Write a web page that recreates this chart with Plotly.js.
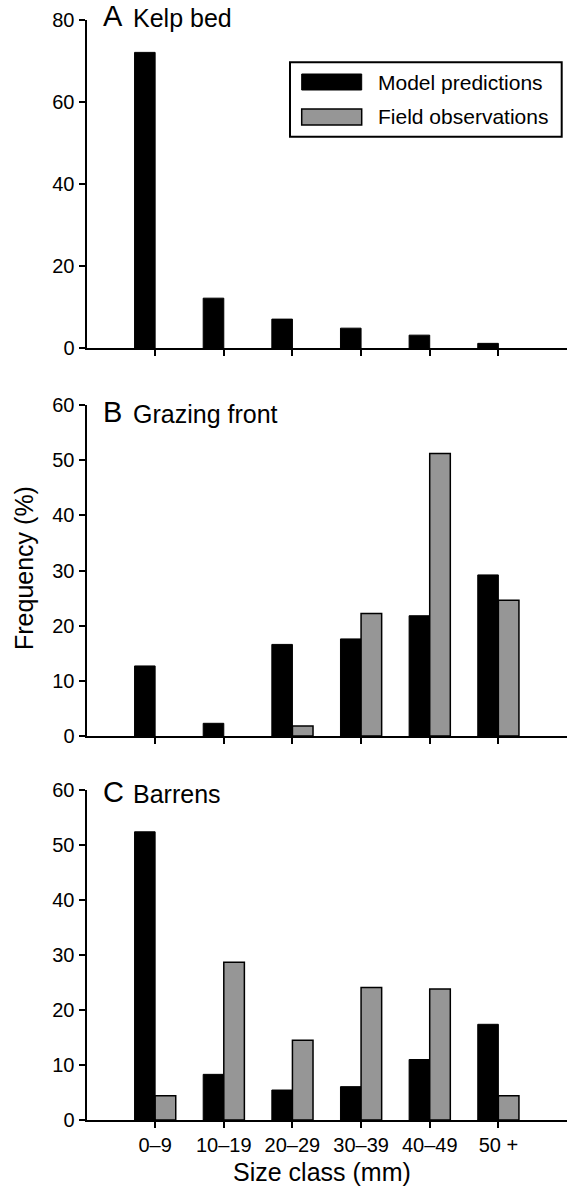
<!DOCTYPE html>
<html><head><meta charset="utf-8">
<script src="https://cdn.plot.ly/plotly-3.0.1.min.js"></script>
<style>html,body{margin:0;padding:0;background:#fff}#chart{width:567px;height:1189px}</style>
</head><body><div id="chart"></div>
<script>
const sizeClasses = ['0–9', '10–19', '20–29', '30–39', '40–49', '50 +'];
const kelpModel = [72, 12.2, 7.1, 4.9, 3.2, 1.2];
const kelpField = [null, null, null, null, null, null];
const frontModel = [12.7, 2.3, 16.6, 17.6, 21.8, 29.2];
const frontField = [null, null, 1.8, 22.2, 51.2, 24.6];
const barrensModel = [52.4, 8.3, 5.45, 6.06, 11.0, 17.4];
const barrensField = [4.4, 28.7, 14.5, 24.1, 23.8, 4.4];
const seriesNames = ['Model predictions', 'Field observations'];
const panelLetters = ['A', 'B', 'C'];
const panelNames = ['Kelp bed', 'Grazing front', 'Barrens'];

const W = 567, H = 1189;
const px = x => x / W;
const py = y => 1 - y / H;
const FONT = 'Liberation Sans, Arial, Helvetica, sans-serif';
const BLACK = '#000000', GREY = '#969696';

const panels = [
  {model: kelpModel, field: kelpField, ax: '', top: 19.5, bottom: 348.3, max: 80, dtick: 20},
  {model: frontModel, field: frontField, ax: '2', top: 405, bottom: 736, max: 60, dtick: 10},
  {model: barrensModel, field: barrensField, ax: '3', top: 790, bottom: 1120, max: 60, dtick: 10}
];

const data = [];
const layout = {
  width: W, height: H,
  margin: {l: 0, r: 0, t: 0, b: 0, pad: 0},
  paper_bgcolor: '#fff', plot_bgcolor: 'rgba(0,0,0,0)',
  showlegend: false,
  barmode: 'group', bargap: 0.4, bargroupgap: 0,
  font: {family: FONT, size: 20, color: '#000'},
  annotations: [], shapes: []
};

panels.forEach((p, i) => {
  data.push({
    type: 'bar', name: seriesNames[0], x: sizeClasses, y: p.model,
    xaxis: 'x' + p.ax, yaxis: 'y' + p.ax,
    marker: {color: BLACK, line: {color: BLACK, width: 1}}
  });
  data.push({
    type: 'bar', name: seriesNames[1], x: sizeClasses, y: p.field,
    xaxis: 'x' + p.ax, yaxis: 'y' + p.ax,
    marker: {color: GREY, line: {color: BLACK, width: 1.5}}
  });
  layout['xaxis' + p.ax] = {
    type: 'category', categoryorder: 'array', categoryarray: sizeClasses,
    range: [-1, 6], domain: [px(86.5), 1], anchor: 'y' + p.ax,
    showline: true, linewidth: 2, linecolor: BLACK,
    ticks: 'outside', ticklen: 6, tickwidth: 2, tickcolor: BLACK,
    showgrid: false, zeroline: false, fixedrange: true,
    showticklabels: i === 2, tickfont: {family: FONT, size: 20, color: '#000'},
    automargin: false
  };
  layout['yaxis' + p.ax] = {
    range: [0, p.max], dtick: p.dtick, tick0: 0,
    domain: [py(p.bottom), py(p.top)], anchor: 'x' + p.ax,
    showline: true, linewidth: 2, linecolor: BLACK,
    ticks: 'outside', ticklen: 6, tickwidth: 2, tickcolor: BLACK,
    showgrid: false, zeroline: false, fixedrange: true,
    tickfont: {family: FONT, size: 20, color: '#000'},
    automargin: false
  };
  const ly = [16.5, 412, 791.7][i];
  layout.annotations.push({
    xref: 'paper', yref: 'paper', x: px(101), y: py(ly), xanchor: 'left', yanchor: 'middle',
    text: panelLetters[i], showarrow: false, font: {family: FONT, size: 29, color: '#000'}
  });
  layout.annotations.push({
    xref: 'paper', yref: 'paper', x: px(131), y: py(ly + 2), xanchor: 'left', yanchor: 'middle',
    text: panelNames[i], showarrow: false, font: {family: FONT, size: 25, color: '#000'}
  });
});

// axis titles
layout.annotations.push({
  xref: 'paper', yref: 'paper', x: px(24), y: py(568), xanchor: 'center', yanchor: 'middle',
  text: 'Frequency (%)', textangle: -90, showarrow: false, font: {family: FONT, size: 25, color: '#000'}
});
layout.annotations.push({
  xref: 'paper', yref: 'paper', x: px(322), y: py(1172), xanchor: 'center', yanchor: 'middle',
  text: 'Size class (mm)', showarrow: false, font: {family: FONT, size: 25, color: '#000'}
});

// legend (custom, drawn in paper space)
layout.shapes.push({type: 'rect', xref: 'paper', yref: 'paper', x0: px(290), x1: px(561.7), y0: py(136.7), y1: py(62.3),
  line: {color: BLACK, width: 2}, fillcolor: 'rgba(255,255,255,1)', layer: 'above'});
layout.shapes.push({type: 'rect', xref: 'paper', yref: 'paper', x0: px(301.7), x1: px(361.7), y0: py(90), y1: py(74),
  line: {color: BLACK, width: 1}, fillcolor: BLACK, layer: 'above'});
layout.shapes.push({type: 'rect', xref: 'paper', yref: 'paper', x0: px(301.7), x1: px(361.7), y0: py(125), y1: py(109),
  line: {color: BLACK, width: 1.5}, fillcolor: GREY, layer: 'above'});
layout.annotations.push({
  xref: 'paper', yref: 'paper', x: px(376), y: py(82), xanchor: 'left', yanchor: 'middle',
  text: seriesNames[0], showarrow: false, font: {family: FONT, size: 21, color: '#000'}
});
layout.annotations.push({
  xref: 'paper', yref: 'paper', x: px(376), y: py(117), xanchor: 'left', yanchor: 'middle',
  text: seriesNames[1], showarrow: false, font: {family: FONT, size: 21, color: '#000'}
});

Plotly.newPlot('chart', data, layout, {staticPlot: true, displayModeBar: false});
</script>
</body></html>
